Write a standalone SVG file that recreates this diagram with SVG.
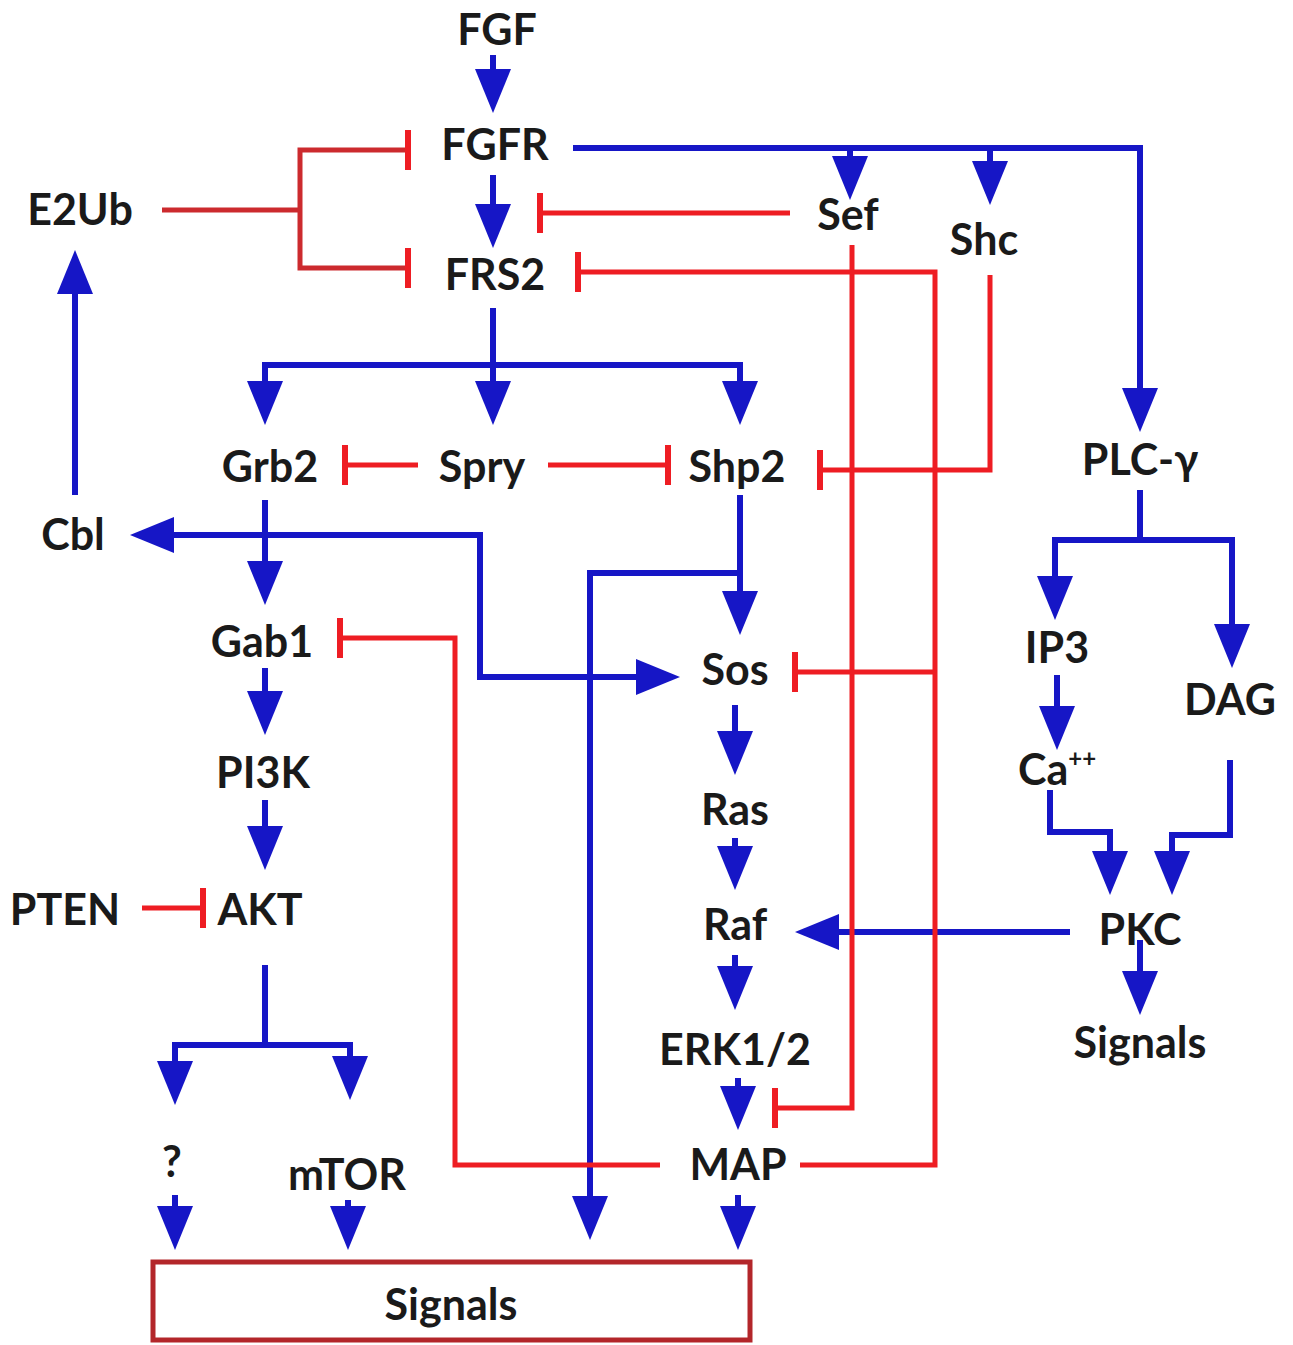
<svg xmlns="http://www.w3.org/2000/svg" width="1293" height="1345" viewBox="0 0 1293 1345">
<style>
text{font-family:Lato,"Liberation Sans",sans-serif;font-weight:700;font-size:43px;fill:#1a1a1a;text-anchor:middle}
.b{fill:none;stroke:#1616c6;stroke-width:6;marker-end:url(#arr)}
.bl{fill:none;stroke:#1616c6;stroke-width:6}
.r{fill:none;stroke:#ee1d23;stroke-width:5;marker-end:url(#bar)}
.rl{fill:none;stroke:#ee1d23;stroke-width:5}
.rd{stroke:#cc2a2e}
</style>
<defs>
<marker id="arr" markerUnits="userSpaceOnUse" markerWidth="44" markerHeight="40" viewBox="0 0 44 40" refX="36" refY="20" orient="auto"><path d="M0,2 L44,20 L0,38 z" fill="#1616c6"/></marker>
<marker id="bar" markerUnits="userSpaceOnUse" markerWidth="8" markerHeight="44" viewBox="-4 -22 8 44" refX="0" refY="0" orient="auto"><path d="M0,-20 V20" stroke="#ee1d23" stroke-width="6"/></marker>
</defs>
<rect width="1293" height="1345" fill="#fff"/>
<g id="connectors">
<path class="b" d="M493,55 V105"/>
<path class="b" d="M493,175 V240"/>
<path class="b" d="M573,148 H1140 V424"/>
<path class="b" d="M850,148 V192"/>
<path class="b" d="M990,148 V197"/>
<path class="b" d="M493,308 V417"/>
<path class="b" d="M493,365 H265 V417"/>
<path class="b" d="M493,365 H740 V417"/>
<path class="b" d="M265,500 V597"/>
<path class="b" d="M480,600 V535 H138"/>
<path class="b" d="M480,535 V677 H672"/>
<path class="b" d="M75,495 V258"/>
<path class="b" d="M740,495 V627"/>
<path class="b" d="M740,573 H590 V1232"/>
<path class="b" d="M265,668 V727"/>
<path class="b" d="M265,800 V862"/>
<path class="bl" d="M265,965 V1045"/>
<path class="b" d="M265,1045 H175 V1097"/>
<path class="b" d="M265,1045 H350 V1092"/>
<path class="b" d="M175,1195 V1242"/>
<path class="b" d="M348,1200 V1242"/>
<path class="b" d="M738,1195 V1242"/>
<path class="b" d="M735,705 V767"/>
<path class="b" d="M735,838 V882"/>
<path class="b" d="M735,955 V1002"/>
<path class="b" d="M738,1078 V1122"/>
<path class="b" d="M1070,932 H803"/>
<path class="b" d="M1140,940 V1007"/>
<path class="bl" d="M1140,490 V540"/>
<path class="b" d="M1140,540 H1055 V612"/>
<path class="b" d="M1140,540 H1232 V660"/>
<path class="b" d="M1057,675 V742"/>
<path class="b" d="M1050,790 V832 H1110 V887"/>
<path class="b" d="M1230,760 V835 H1172 V887"/>
<path class="rl rd" d="M162,210 H300"/>
<path class="r rd" d="M300,210 V150 H408"/>
<path class="r rd" d="M300,210 V268 H408"/>
<path class="r" d="M790,213 H540"/>
<path class="r" d="M852,245 V1108 H775"/>
<path class="r" d="M800,1165 H935 V272 H578"/>
<path class="r" d="M935,672 H795"/>
<path class="r" d="M990,275 V470 H820"/>
<path class="r" d="M418,465 H345"/>
<path class="r" d="M548,465 H668"/>
<path class="r" d="M660,1165 H455 V638 H340"/>
<path class="r" d="M142,908 H203"/>
</g>
<g id="FGF"><text x="497" y="45">FGF</text></g>
<g id="FGFR"><text x="495" y="160">FGFR</text></g>
<g id="FRS2"><text x="495" y="290">FRS2</text></g>
<g id="E2Ub"><text x="80" y="225">E2Ub</text></g>
<g id="Sef"><text x="848" y="230">Sef</text></g>
<g id="Shc"><text x="984" y="255">Shc</text></g>
<g id="Grb2"><text x="270" y="482">Grb2</text></g>
<g id="Spry"><text x="482" y="482">Spry</text></g>
<g id="Shp2"><text x="737" y="482">Shp2</text></g>
<g id="PLC"><text x="1140" y="475">PLC-γ</text></g>
<g id="Cbl"><text x="73" y="550">Cbl</text></g>
<g id="Gab1"><text x="262" y="657">Gab1</text></g>
<g id="Sos"><text x="735" y="685">Sos</text></g>
<g id="IP3"><text x="1057" y="663">IP3</text></g>
<g id="DAG"><text x="1230" y="715">DAG</text></g>
<g id="PI3K"><text x="263" y="788">PI3K</text></g>
<g id="Ras"><text x="735" y="825">Ras</text></g>
<g id="Ca"><text x="1057" y="785">Ca<tspan font-size="24" dy="-18">++</tspan></text></g>
<g id="PTEN"><text x="65" y="925">PTEN</text></g>
<g id="AKT"><text x="260" y="925">AKT</text></g>
<g id="Raf"><text x="735" y="940">Raf</text></g>
<g id="PKC"><text x="1140" y="945">PKC</text></g>
<g id="ERK"><text x="735" y="1065">ERK1/2</text></g>
<g id="Signals2"><text x="1140" y="1058">Signals</text></g>
<g id="Q"><text x="172" y="1177">?</text></g>
<g id="mTOR"><text x="347" y="1190">mTOR</text></g>
<g id="MAP"><text x="738" y="1180">MAP</text></g>
<g id="Signals"><rect x="153" y="1262" width="597" height="78" fill="#fff" stroke="#b3262a" stroke-width="5"/><text x="451" y="1320">Signals</text></g>
</svg>
